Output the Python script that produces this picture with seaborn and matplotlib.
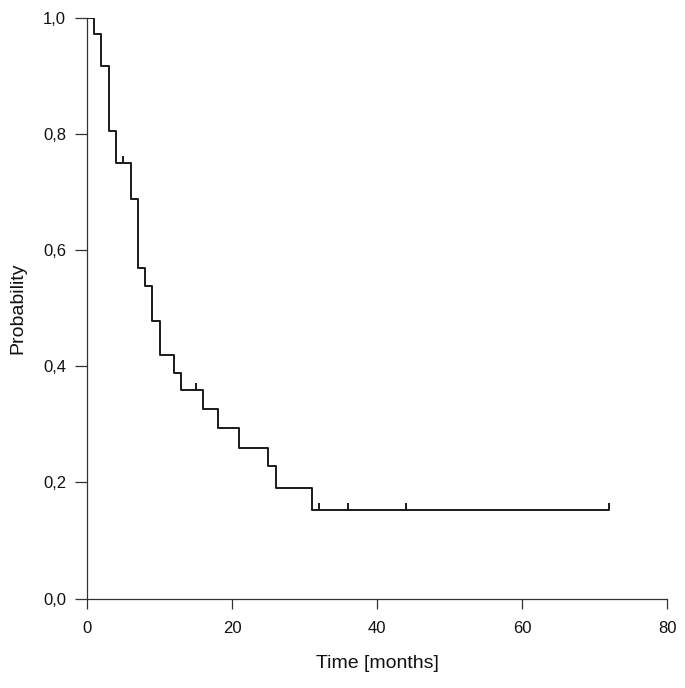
import matplotlib
matplotlib.use("Agg")
import matplotlib.pyplot as plt
import seaborn as sns
import pandas as pd

# Kaplan-Meier step data (time in months, survival probability)
step_times = [0, 1, 2, 3, 4, 6, 7, 8, 9, 10, 12, 13, 16, 18, 21, 25, 26, 31, 72]
step_surv = [1.0, 0.972, 0.917, 0.806, 0.750, 0.688, 0.569, 0.538, 0.478, 0.419,
             0.388, 0.359, 0.326, 0.293, 0.260, 0.228, 0.190, 0.152, 0.152]
censor_times = [5, 15, 32, 36, 44, 72]
censor_surv = [0.750, 0.359, 0.152, 0.152, 0.152, 0.152]

x_ticks = [0, 20, 40, 60, 80]
y_ticks = [0.0, 0.2, 0.4, 0.6, 0.8, 1.0]
y_tick_labels = ["0,0", "0,2", "0,4", "0,6", "0,8", "1,0"]

sns.set_theme(style="ticks")
plt.rcParams['font.family'] = ['Liberation Sans', 'DejaVu Sans']

fig = plt.figure(figsize=(6.85, 6.88), dpi=100)
ax = fig.add_axes([0.127, 0.130, 0.847, 0.844])

df = pd.DataFrame({"time": step_times, "surv": step_surv})
sns.lineplot(data=df, x="time", y="surv", drawstyle="steps-post", color="#1a1a1a",
             linewidth=1.4, ax=ax, estimator=None)

ax.vlines(censor_times, censor_surv, [s + 0.012 for s in censor_surv],
          color="#1a1a1a", linewidth=1.4)

ax.set_xlim(0, 80)
ax.set_ylim(0, 1.0)
ax.set_xticks(x_ticks)
ax.set_xticklabels([str(t) for t in x_ticks])
ax.set_yticks(y_ticks)
ax.set_yticklabels(y_tick_labels)
ax.tick_params(axis="both", labelsize=12, width=0.9, color="#333333",
               labelcolor="#111111", direction="out")
ax.tick_params(axis="x", length=7.5, pad=8.5)
ax.tick_params(axis="y", length=8.5, pad=6.5)
ax.spines["top"].set_visible(False)
ax.spines["right"].set_visible(False)
for s in ["left", "bottom"]:
    ax.spines[s].set_linewidth(0.9)
    ax.spines[s].set_color("#333333")

ax.set_xlabel("Time [months]", fontsize=14, labelpad=14, color="#111111")
ax.set_ylabel("Probability", fontsize=14, labelpad=12, color="#111111")

fig.savefig("out.png", dpi=100)
